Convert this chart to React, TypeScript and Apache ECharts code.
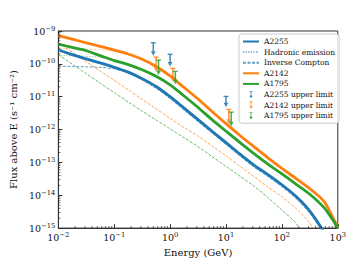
import React, { useEffect, useRef } from 'react';
import * as echarts from 'echarts';

const energy = [0.01, 0.0178, 0.0316, 0.0562, 0.1, 0.178, 0.316, 0.562, 1, 1.78, 3.16, 5.62, 10, 17.8, 31.6, 56.2, 100, 178, 316, 562, 794, 1000];

const a2255Total = [2.69e-10, 1.9e-10, 1.41e-10, 1.07e-10, 7.9e-11, 5.6e-11, 3.55e-11, 2.04e-11, 1.0e-11, 4.5e-12, 2.0e-12, 8.9e-13, 4.0e-13, 1.78e-13, 8.3e-14, 4.27e-14, 2.09e-14, 9.3e-15, 3.3e-15, 7.9e-16, null, null];
const a2255Hadronic = [2.51e-10, 1.78e-10, 1.32e-10, 1.0e-10, 7.4e-11, 5.2e-11, 3.3e-11, 1.86e-11, 9.1e-12, 4.07e-12, 1.82e-12, 8.1e-13, 3.6e-13, 1.62e-13, 7.6e-14, 3.9e-14, 1.9e-14, 8.5e-15, 2.95e-15, 7.1e-16, null, null];
const a2255IC = [8.5e-11, 8.3e-11, 8.1e-11, 7.8e-11, 7.0e-11, 5.3e-11, 3.2e-11, 1.8e-11, 8.7e-12, 3.9e-12, 1.74e-12, 7.8e-13, 3.5e-13, 1.55e-13, 7.2e-14, 3.7e-14, 1.8e-14, 8.0e-15, 2.8e-15, 6.5e-16, null, null];

const a2142Total = [7.24e-10, 5.62e-10, 4.37e-10, 3.39e-10, 2.63e-10, 2.0e-10, 1.38e-10, 8.3e-11, 4.27e-11, 1.9e-11, 8.5e-12, 3.55e-12, 1.51e-12, 6.6e-13, 3.0e-13, 1.38e-13, 6.6e-14, 3.24e-14, 1.58e-14, 6.6e-15, 2.3e-15, 1.05e-15];
const a2142Hadronic = [2.95e-10, 2.88e-10, 2.82e-10, 2.69e-10, 2.4e-10, 1.9e-10, 1.29e-10, 7.9e-11, 4.07e-11, 1.82e-11, 8.1e-12, 3.4e-12, 1.45e-12, 6.3e-13, 2.9e-13, 1.32e-13, 6.3e-14, 3.1e-14, 1.51e-14, 6.3e-15, 2.2e-15, 9.5e-16];
const a2142IC = [4.37e-10, 2.29e-10, 1.17e-10, 6.0e-11, 3.16e-11, 1.62e-11, 8.3e-12, 4.27e-12, 2.19e-12, 1.15e-12, 6.3e-13, 3.16e-13, 1.58e-13, 7.6e-14, 3.7e-14, 1.78e-14, 8.9e-15, 4.0e-15, 1.41e-15, 3.2e-16, null, null];

const a1795Total = [3.98e-10, 3.16e-10, 2.51e-10, 1.78e-10, 1.26e-10, 9.5e-11, 6.6e-11, 4.17e-11, 2.29e-11, 1.05e-11, 4.7e-12, 2.0e-12, 8.9e-13, 4.0e-13, 1.86e-13, 8.9e-14, 4.47e-14, 2.19e-14, 1.07e-14, 4.27e-15, 1.9e-15, 1.0e-15];
const a1795Hadronic = [1.78e-10, 1.76e-10, 1.7e-10, 1.58e-10, 1.32e-10, 1.0e-10, 6.3e-11, 3.9e-11, 2.14e-11, 1.0e-11, 4.47e-12, 1.9e-12, 8.5e-13, 3.8e-13, 1.78e-13, 8.5e-14, 4.27e-14, 2.09e-14, 1.02e-14, 4.07e-15, 1.78e-15, 9.3e-16];
const a1795IC = [1.9e-10, 9.8e-11, 5.0e-11, 2.57e-11, 1.32e-11, 6.9e-12, 3.63e-12, 1.95e-12, 1.05e-12, 5.6e-13, 3.0e-13, 1.51e-13, 7.6e-14, 3.8e-14, 1.9e-14, 8.5e-15, 3.55e-15, 1.41e-15, 3.2e-16, null, null, null];

const ulEnergyA2255 = [0.5, 1.0, 10];
const ulTopA2255 = [4.4e-10, 1.96e-10, 1.02e-11];
const ulBottomA2255 = [1.75e-10, 8.3e-11, 4.8e-12];
const ulEnergyA2142 = [0.56, 1.12, 11.2];
const ulTopA2142 = [1.6e-10, 7.3e-11, 4.1e-12];
const ulBottomA2142 = [5.9e-11, 2.9e-11, 1.5e-12];
const ulEnergyA1795 = [0.62, 1.24, 12.4];
const ulTopA1795 = [1.3e-10, 5.9e-11, 3.4e-12];
const ulBottomA1795 = [4.6e-11, 2.4e-11, 1.26e-12];

const xDecades = [0.01, 0.1, 1, 10, 100];
const yDecades = [1e-15, 1e-14, 1e-13, 1e-12, 1e-11, 1e-10];
const minorMultipliers = [2, 3, 4, 5, 6, 7, 8, 9];

const BLUE = '#1f77b4';
const ORANGE = '#ff7f0e';
const GREEN = '#2ca02c';
const FONT = 'DejaVu Serif';

const pairs = (ys: (number | null)[]) => energy.map((e, i) => [e, ys[i] == null ? null : ys[i]]);

const ulRender = (color: string) => (params: any, api: any) => {
  const top = api.coord([api.value(0), api.value(1)]);
  const bot = api.coord([api.value(0), api.value(2)]);
  const ah = 4.5;
  const aw = 2.4;
  return {
    type: 'group',
    children: [
      { type: 'line', shape: { x1: top[0], y1: top[1], x2: bot[0], y2: bot[1] - ah + 0.5 }, style: { stroke: color, lineWidth: 1.5, opacity: 0.85 } },
      { type: 'line', shape: { x1: top[0] - 2.5, y1: top[1], x2: top[0] + 2.5, y2: top[1] }, style: { stroke: color, lineWidth: 1.3, opacity: 0.85 } },
      { type: 'polygon', shape: { points: [[bot[0] - aw, bot[1] - ah], [bot[0] + aw, bot[1] - ah], [bot[0], bot[1]]] }, style: { fill: color, opacity: 0.85 } },
    ],
  };
};

const ulIcon = 'path://M1,0 L7,0 L7,1 L4.6,1 L4.6,8 L7,8 L4,12 L1,8 L3.4,8 L3.4,1 L1,1 Z';

const expLabel = (v: number) => {
  const e = Math.round(Math.log10(v));
  return '{b|10}{e|' + (e < 0 ? '\u2212' : '') + Math.abs(e) + '}';
};

const richLabel = {
  b: { fontSize: 9.5, fontFamily: FONT, color: '#111', lineHeight: 12 },
  e: { fontSize: 6.8, fontFamily: FONT, color: '#111', lineHeight: 7, verticalAlign: 'top' },
};

const hideSymbol = { opacity: 0, borderWidth: 0 };

export default function App() {
  const ref = useRef<HTMLDivElement>(null);
  useEffect(() => {
    if (!ref.current) return;
    const chart = echarts.init(ref.current, null, { renderer: 'svg' });
    const minorX: number[][] = [];
    xDecades.forEach((d) => minorMultipliers.forEach((m) => minorX.push([d * m, 1e-15])));
    const minorY: number[][] = [];
    yDecades.forEach((d) => minorMultipliers.forEach((m) => minorY.push([0.01, d * m])));

    const thick = (name: string, color: string, ys: any[], z = 5) => ({
      name, type: 'line', data: pairs(ys), symbol: 'none', smooth: 0.3, z,
      lineStyle: { color, width: 2.8 }, itemStyle: { color },
    });
    const dotted = (name: string, color: string, ys: any[]) => ({
      name, type: 'line', data: pairs(ys), symbol: 'none', smooth: 0.3, z: 3,
      lineStyle: { color, width: 1, type: [1.2, 1.4], opacity: 0.55 }, itemStyle: { color },
    });
    const dashed = (name: string, color: string, ys: any[]) => ({
      name, type: 'line', data: pairs(ys), symbol: 'none', smooth: 0.3, z: 3,
      lineStyle: { color, width: 1, type: [3, 1.5], opacity: 0.7 }, itemStyle: { color },
    });
    const ul = (name: string, color: string, es: number[], tops: number[], bots: number[]) => ({
      name, type: 'custom', renderItem: ulRender(color), z: 6,
      itemStyle: { color },
      dimensions: ['x', 'top', 'bottom'],
      encode: { x: 0, y: [1, 2] },
      data: es.map((e, i) => [e, tops[i], bots[i]]),
    });

    chart.setOption({
      animation: false,
      grid: { left: 52, top: 31, width: 286, height: 198, show: true, borderColor: '#333', borderWidth: 1, backgroundColor: 'transparent' },
      xAxis: {
        type: 'log', logBase: 10, min: 0.01, max: 1000,
        name: 'Energy (GeV)', nameLocation: 'middle', nameGap: 18,
        nameTextStyle: { fontFamily: FONT, fontSize: 10, color: '#111' },
        axisLine: { show: true, lineStyle: { color: '#333', width: 1 } },
        axisTick: { show: true, inside: true, length: 4, lineStyle: { color: '#333' } },
        splitLine: { show: false },
        axisLabel: { formatter: expLabel, rich: richLabel, margin: 3, showMinLabel: true, showMaxLabel: true },
      },
      yAxis: {
        type: 'log', logBase: 10, min: 1e-15, max: 1e-9,
        name: 'Flux above E (s\u207B\u00B9 cm\u207B\u00B2)', nameLocation: 'middle', nameGap: 33,
        nameTextStyle: { fontFamily: FONT, fontSize: 10, color: '#111' },
        axisLine: { show: true, lineStyle: { color: '#333', width: 1 } },
        axisTick: { show: true, inside: true, length: 4, lineStyle: { color: '#333' } },
        splitLine: { show: false },
        axisLabel: { formatter: expLabel, rich: richLabel, margin: 3, showMinLabel: true, showMaxLabel: true },
      },
      legend: {
        orient: 'vertical', left: 239, top: 34,
        backgroundColor: 'rgba(255,255,255,0.85)', borderColor: '#ccc', borderWidth: 1, borderRadius: 3,
        padding: [3, 4, 3, 3], itemWidth: 16, itemHeight: 7, itemGap: 1.6, selectedMode: false,
        textStyle: { fontFamily: FONT, fontSize: 7.5, color: '#111', lineHeight: 9 },
        data: [
          { name: 'A2255', itemStyle: hideSymbol },
          { name: 'Hadronic emission', itemStyle: hideSymbol },
          { name: 'Inverse Compton', itemStyle: hideSymbol },
          { name: 'A2142', itemStyle: hideSymbol },
          { name: 'A1795', itemStyle: hideSymbol },
          { name: 'A2255 upper limit', icon: ulIcon },
          { name: 'A2142 upper limit', icon: ulIcon },
          { name: 'A1795 upper limit', icon: ulIcon },
        ],
      },
      series: [
        dotted('A2142 hadronic', ORANGE, a2142Hadronic),
        dashed('A2142 IC', ORANGE, a2142IC),
        dotted('A1795 hadronic', GREEN, a1795Hadronic),
        dashed('A1795 IC', GREEN, a1795IC),
        dotted('Hadronic emission', BLUE, a2255Hadronic),
        dashed('Inverse Compton', BLUE, a2255IC),
        thick('A2255', BLUE, a2255Total),
        thick('A2142', ORANGE, a2142Total),
        thick('A1795', GREEN, a1795Total),
        ul('A2255 upper limit', BLUE, ulEnergyA2255, ulTopA2255, ulBottomA2255),
        ul('A2142 upper limit', ORANGE, ulEnergyA2142, ulTopA2142, ulBottomA2142),
        ul('A1795 upper limit', GREEN, ulEnergyA1795, ulTopA1795, ulBottomA1795),
        {
          name: 'minorX', type: 'custom', silent: true, z: 7, data: minorX,
          renderItem: (p: any, api: any) => {
            const c = api.coord([api.value(0), api.value(1)]);
            return { type: 'line', shape: { x1: c[0], y1: c[1], x2: c[0], y2: c[1] - 2 }, style: { stroke: '#333', lineWidth: 0.8 } };
          },
        },
        {
          name: 'minorY', type: 'custom', silent: true, z: 7, data: minorY,
          renderItem: (p: any, api: any) => {
            const c = api.coord([api.value(0), api.value(1)]);
            return { type: 'line', shape: { x1: c[0], y1: c[1], x2: c[0] + 2, y2: c[1] }, style: { stroke: '#333', lineWidth: 0.8 } };
          },
        },
      ],
    });
    return () => chart.dispose();
  }, []);
  return <div ref={ref} style={{ position: 'fixed', left: 0, top: 0, width: 349, height: 262, background: '#fff' }} />;
}
